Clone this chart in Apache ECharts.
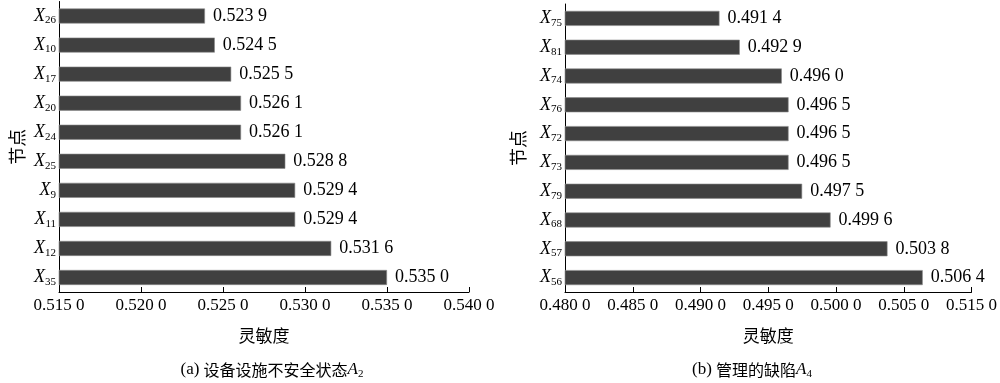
<!DOCTYPE html>
<html><head><meta charset="utf-8">
<script src="https://cdn.jsdelivr.net/npm/echarts@6/dist/echarts.min.js"></script>
<style>html,body{margin:0;padding:0;background:#fff}#c{width:1000px;height:383px}</style>
</head><body><div id="c"></div>
<script>
const leftNodes = ['26','10','17','20','24','25','9','11','12','35'];
const leftVals = [0.5239,0.5245,0.5255,0.5261,0.5261,0.5288,0.5294,0.5294,0.5316,0.5350];
const leftTicks = ['0.515 0','0.520 0','0.525 0','0.530 0','0.535 0','0.540 0'];
const rightNodes = ['75','81','74','76','72','73','79','68','57','56'];
const rightVals = [0.4914,0.4929,0.4960,0.4965,0.4965,0.4965,0.4975,0.4996,0.5038,0.5064];
const rightTicks = ['0.480 0','0.485 0','0.490 0','0.495 0','0.500 0','0.505 0','0.515 0'];
const axisName = '灵敏度';
const yName = '节点';
const captionA = ['(a) ', '设备设施不安全状态', 'A', '2'];
const captionB = ['(b) ', '管理的缺陷', 'A', '4'];

const SERIF = '"Liberation Serif","Noto Sans CJK SC",serif';
const CJK = '"Noto Sans CJK SC","Liberation Serif",serif';
const chart = echarts.init(document.getElementById('c'), null, {renderer:'canvas'});
const fmtVal = v => { const s = v.toFixed(4); return s.slice(0,5) + ' ' + s.slice(5); };
const yRich = {
  x:{fontFamily:SERIF,fontStyle:'italic',fontSize:18,color:'#000'},
  s:{fontFamily:SERIF,fontSize:11,color:'#000',verticalAlign:'bottom',padding:[9,0,0,0]}
};
function mkX(gi, min, max, ticks){
  return {
    gridIndex:gi, type:'value', min:min, max:max, interval:0.005,
    axisLine:{show:true,lineStyle:{color:'#000',width:1}},
    axisTick:{show:true,inside:true,length:5,lineStyle:{color:'#000'}},
    splitLine:{show:false},
    axisLabel:{fontFamily:SERIF,fontSize:17,color:'#000',margin:5,
      formatter:v=>ticks[Math.round((v-min)/0.005)]},
    name:axisName, nameLocation:'middle', nameGap:35,
    nameTextStyle:{fontFamily:CJK,fontSize:17,color:'#000'}
  };
}
function mkY(gi, nodes, gap){
  return {
    gridIndex:gi, type:'category', inverse:true, data:nodes,
    axisLine:{show:true,lineStyle:{color:'#000',width:1}},
    axisTick:{show:true,inside:true,alignWithLabel:true,length:5,lineStyle:{color:'#000'}},
    axisLabel:{margin:3,formatter:v=>'{x|X}{s|'+v+'}',rich:yRich},
    name:yName, nameLocation:'middle', nameRotate:90, nameGap:gap,
    nameTextStyle:{fontFamily:CJK,fontSize:18,color:'#000'}
  };
}
function mkS(gi, vals){
  return {
    type:'bar', xAxisIndex:gi, yAxisIndex:gi, data:vals, barWidth:15,
    itemStyle:{color:'#404040',borderColor:'#8a8a8a',borderWidth:0.6},
    label:{show:true,position:'right',distance:8,fontFamily:SERIF,fontSize:18,color:'#000',formatter:p=>fmtVal(p.value)},
    silent:true, animation:false
  };
}
const capRich = {
  p:{fontFamily:SERIF,fontSize:17,color:'#000',fontWeight:'normal'},
  t:{fontFamily:CJK,fontSize:16,color:'#000',fontWeight:'normal'},
  a:{fontFamily:SERIF,fontStyle:'italic',fontSize:17,color:'#000',fontWeight:'normal'},
  s:{fontFamily:SERIF,fontSize:11,color:'#000',verticalAlign:'bottom',padding:[9,0,0,0],fontWeight:'normal'}
};
const cap = c => '{p|'+c[0]+'}{t|'+c[1]+'}{a|'+c[2]+'}{s|'+c[3]+'}';
chart.setOption({
  animation:false,
  grid:[
    {left:59,width:410,top:1.5,height:290.5,containLabel:false},
    {left:565,width:410,top:4,height:288,containLabel:false}
  ],
  xAxis:[mkX(0,0.515,0.540,leftTicks), mkX(1,0.480,0.510,rightTicks)],
  yAxis:[mkY(0,leftNodes,33), mkY(1,rightNodes,38)],
  series:[mkS(0,leftVals), mkS(1,rightVals)],
  title:[
    {text:cap(captionA),left:267,top:355,textAlign:'center',textStyle:{fontWeight:'normal',rich:capRich}},
    {text:cap(captionB),left:747,top:355,textAlign:'center',textStyle:{fontWeight:'normal',rich:capRich}}
  ]
});
</script></body></html>
